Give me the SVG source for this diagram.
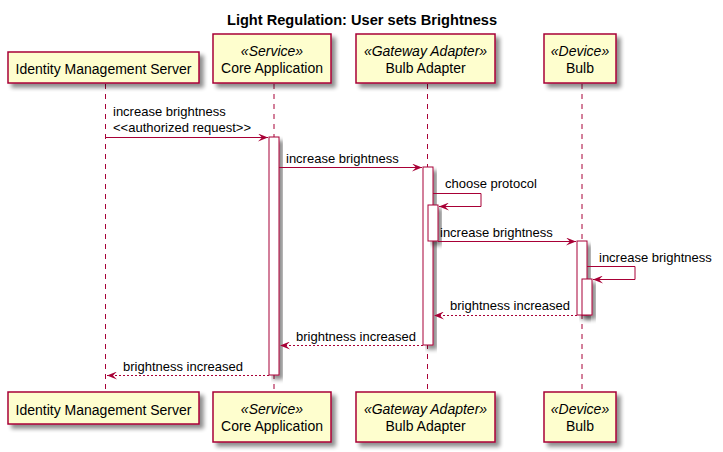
<svg xmlns="http://www.w3.org/2000/svg" width="723" height="452" viewBox="0 0 723 452">
<defs>
<filter id="sh" x="-20%" y="-20%" width="160%" height="160%">
<feGaussianBlur in="SourceAlpha" stdDeviation="2"/>
<feOffset dx="4" dy="4" result="b"/>
<feComponentTransfer><feFuncA type="linear" slope="0.45"/></feComponentTransfer>
<feMerge><feMergeNode/><feMergeNode in="SourceGraphic"/></feMerge>
</filter>
<marker id="ah" viewBox="0 0 10 8" refX="10" refY="4" markerWidth="10" markerHeight="8" markerUnits="userSpaceOnUse" orient="auto">
<polygon points="0,0 10,4 0,8 4,4" fill="#A80036"/>
</marker>
</defs>
<style>
text{font-family:"Liberation Sans",Arial,sans-serif;fill:#000}
.t{font-size:14.6px;font-weight:bold}
.p{font-size:14px}
.st{font-size:14px;font-style:italic}
.m{font-size:13px}
.box{fill:#FEFECE;stroke:#A80036;stroke-width:1.5;filter:url(#sh)}
.act{fill:#FFFFFF;stroke:#A80036;stroke-width:1;filter:url(#sh)}
.life{stroke:#A80036;stroke-width:1;stroke-dasharray:5,5;fill:none}
.msg{stroke:#A80036;stroke-width:1;fill:none;marker-end:url(#ah)}
.ret{stroke:#A80036;stroke-width:1;fill:none;stroke-dasharray:2,2;marker-end:url(#ah)}
</style>
<rect width="723" height="452" fill="#FFFFFF"/>
<text class="t" x="362" y="25" text-anchor="middle">Light Regulation: User sets Brightness</text>

<g id="lifelines">
<line class="life" x1="105.5" y1="84" x2="105.5" y2="392"/>
<line class="life" x1="274" y1="84" x2="274" y2="392"/>
<line class="life" x1="427.5" y1="84" x2="427.5" y2="392"/>
<line class="life" x1="582" y1="84" x2="582" y2="392"/>
</g>

<g id="ims">
<rect class="box" x="8" y="52" width="191" height="31"/>
<text class="p" x="103.5" y="74" text-anchor="middle">Identity Management Server</text>
<rect class="box" x="8" y="392" width="191" height="32"/>
<text class="p" x="103.5" y="415" text-anchor="middle">Identity Management Server</text>
</g>
<g id="core">
<rect class="box" x="213" y="34" width="118" height="49"/>
<text class="st" x="272" y="56" text-anchor="middle">«Service»</text>
<text class="p" x="272" y="73" text-anchor="middle">Core Application</text>
<rect class="box" x="213" y="392" width="118" height="50"/>
<text class="st" x="272" y="414" text-anchor="middle">«Service»</text>
<text class="p" x="272" y="431" text-anchor="middle">Core Application</text>
</g>
<g id="adapter">
<rect class="box" x="356" y="34" width="139" height="49"/>
<text class="st" x="425.5" y="56" text-anchor="middle">«Gateway Adapter»</text>
<text class="p" x="425.5" y="73" text-anchor="middle">Bulb Adapter</text>
<rect class="box" x="356" y="392" width="139" height="50"/>
<text class="st" x="425.5" y="414" text-anchor="middle">«Gateway Adapter»</text>
<text class="p" x="425.5" y="431" text-anchor="middle">Bulb Adapter</text>
</g>
<g id="bulb">
<rect class="box" x="544" y="34" width="72" height="49"/>
<text class="st" x="580" y="56" text-anchor="middle">«Device»</text>
<text class="p" x="580" y="73" text-anchor="middle">Bulb</text>
<rect class="box" x="544" y="392" width="72" height="50"/>
<text class="st" x="580" y="414" text-anchor="middle">«Device»</text>
<text class="p" x="580" y="431" text-anchor="middle">Bulb</text>
</g>

<g id="activations">
<rect class="act" x="269" y="137" width="10" height="238"/>
<rect class="act" x="423" y="167" width="10" height="178"/>
<rect class="act" x="428" y="205" width="10" height="36"/>
<rect class="act" x="577" y="241" width="10" height="74"/>
<rect class="act" x="582" y="279" width="10" height="36"/>
</g>

<g id="connectors">
<line class="msg" x1="106" y1="137.5" x2="268" y2="137.5"/>
<text class="m" x="113" y="116">increase brightness</text>
<text class="m" x="113" y="132">&lt;&lt;authorized request&gt;&gt;</text>

<line class="msg" x1="279" y1="167.5" x2="422" y2="167.5"/>
<text class="m" x="286" y="163">increase brightness</text>

<polyline class="msg" points="433,193.5 481,193.5 481,206.5 439,206.5"/>
<text class="m" x="445" y="188">choose protocol</text>

<line class="msg" x1="438" y1="241.5" x2="576" y2="241.5"/>
<text class="m" x="440" y="237">increase brightness</text>

<polyline class="msg" points="587,266.5 635,266.5 635,279.5 593,279.5"/>
<text class="m" x="599" y="262">increase brightness</text>

<line class="ret" x1="577" y1="315.5" x2="434" y2="315.5"/>
<text class="m" x="450" y="310">brightness increased</text>

<line class="ret" x1="423" y1="345.5" x2="280" y2="345.5"/>
<text class="m" x="296" y="341">brightness increased</text>

<line class="ret" x1="269" y1="375.5" x2="107" y2="375.5"/>
<text class="m" x="123" y="371">brightness increased</text>
</g>
</svg>
